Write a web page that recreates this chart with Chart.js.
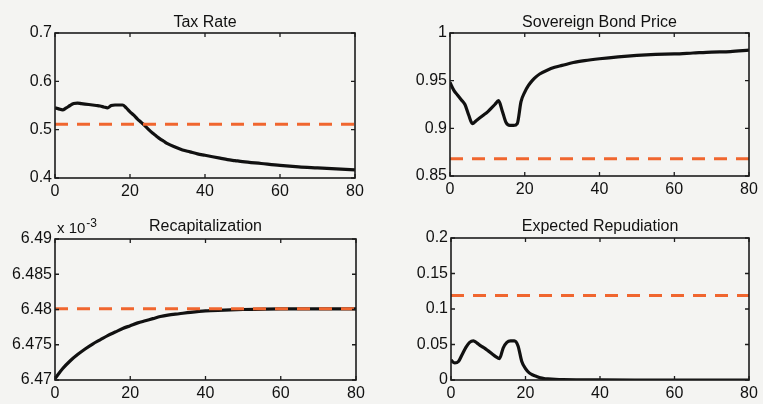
<!DOCTYPE html>
<html>
<head>
<meta charset="utf-8">
<script src="https://cdn.jsdelivr.net/npm/chart.js@4.4.1/dist/chart.umd.min.js"></script>
<style>
body{margin:0;background:#f4f4f2;width:763px;height:404px;overflow:hidden;position:relative}
canvas{position:absolute}
</style>
</head>
<body>
<canvas id="c1" width="381" height="200" style="left:0;top:0"></canvas>
<canvas id="c2" width="382" height="200" style="left:381px;top:0"></canvas>
<canvas id="c3" width="381" height="204" style="left:0;top:200px"></canvas>
<canvas id="c4" width="382" height="204" style="left:381px;top:200px"></canvas>
<script>
// x axis (periods)
const xTickVals = [0, 20, 40, 60, 80]
const xTickLabels = ['0', '20', '40', '60', '80']

// Tax Rate
const taxX = [0,1,2,3,4,5,6,7,8,9,10,11,12,13,14,15,16,17,18,19,20,21,22,23,24,25,26,27,28,29,30,32,34,36,38,40,42,44,46,48,50,55,60,65,70,75,80]
const taxY = [0.545,0.543,0.541,0.545,0.550,0.554,0.555,0.554,0.553,0.552,0.551,0.550,0.549,0.547,0.545,0.550,0.551,0.551,0.551,0.545,0.537,0.530,0.522,0.515,0.508,0.500,0.493,0.487,0.481,0.476,0.471,0.464,0.458,0.454,0.450,0.447,0.444,0.441,0.438,0.436,0.434,0.430,0.426,0.423,0.421,0.419,0.417]
const taxSteady = 0.511
const taxTickVals = [0.4, 0.5, 0.6, 0.7]
const taxTickLabels = ['0.4', '0.5', '0.6', '0.7']

// Sovereign Bond Price
const bondX = [0,1,2,3,4,5,6,7,8,9,10,11,12,13,14,15,16,17,18,19,20,21,22,23,24,26,28,30,33,36,40,45,50,55,60,65,70,75,80]
const bondY = [0.948,0.940,0.935,0.930,0.925,0.914,0.905,0.908,0.911,0.914,0.917,0.921,0.925,0.929,0.918,0.906,0.903,0.903,0.905,0.928,0.938,0.945,0.950,0.954,0.957,0.961,0.964,0.966,0.969,0.971,0.973,0.975,0.9765,0.9775,0.978,0.979,0.980,0.9805,0.982]
const bondSteady = 0.868
const bondTickVals = [0.85, 0.9, 0.95, 1]
const bondTickLabels = ['0.85', '0.9', '0.95', '1']

// Recapitalization (values in units of 1e-3)
const recapX = [0,2,4,6,8,10,12,14,16,18,20,22,24,26,28,30,33,36,40,45,50,60,70,80]
const recapY = [6.4702,6.4716,6.4727,6.4736,6.4744,6.4751,6.4757,6.4763,6.4768,6.4773,6.4777,6.4781,6.4784,6.4787,6.4790,6.4792,6.4794,6.4796,6.4798,6.4799,6.4800,6.4801,6.4801,6.4801]
const recapSteady = 6.4801
const recapTickVals = [6.47, 6.475, 6.48, 6.485, 6.49]
const recapTickLabels = ['6.47', '6.475', '6.48', '6.485', '6.49']

// Expected Repudiation
const repX = [0,1,2,3,4,5,6,7,8,9,10,11,12,13,14,15,16,17,18,19,20,21,22,23,24,25,26,28,30,35,40,50,60,70,80]
const repY = [0.028,0.024,0.026,0.036,0.046,0.053,0.055,0.052,0.048,0.045,0.041,0.037,0.033,0.030,0.045,0.053,0.055,0.055,0.048,0.026,0.016,0.010,0.007,0.005,0.003,0.002,0.0015,0.0008,0.0004,0.0002,0.0001,0,0,0,0]
const repSteady = 0.119
const repTickVals = [0, 0.05, 0.1, 0.15, 0.2]
const repTickLabels = ['0', '0.05', '0.1', '0.15', '0.2']

const FONT = '"Liberation Sans", Arial, sans-serif'

// matlab-like box, inward ticks, title, exponent label
const frame = {
  id: 'frame',
  afterDraw(chart, args, opts) {
    const {ctx, chartArea: a, scales} = chart
    ctx.save()
    ctx.strokeStyle = '#1c1c1c'
    ctx.lineWidth = 1.6
    ctx.strokeRect(a.left, a.top, a.right - a.left, a.bottom - a.top)
    ctx.lineWidth = 1.3
    ctx.beginPath()
    scales.x.ticks.forEach(t => {
      const px = scales.x.getPixelForValue(t.value)
      ctx.moveTo(px, a.bottom); ctx.lineTo(px, a.bottom - 4)
      ctx.moveTo(px, a.top); ctx.lineTo(px, a.top + 4)
    })
    scales.y.ticks.forEach(t => {
      const py = scales.y.getPixelForValue(t.value)
      ctx.moveTo(a.left, py); ctx.lineTo(a.left + 4, py)
      ctx.moveTo(a.right, py); ctx.lineTo(a.right - 4, py)
    })
    ctx.stroke()
    ctx.fillStyle = '#111'
    ctx.font = '16px ' + FONT
    ctx.textAlign = 'center'
    ctx.textBaseline = 'alphabetic'
    ctx.fillText(opts.text, (a.left + a.right) / 2, a.top - opts.gap)
    if (opts.expo) {
      ctx.textAlign = 'left'
      ctx.font = '15px ' + FONT
      const base = 'x 10'
      ctx.fillText(base, a.left + 2, a.top - 6)
      const w = ctx.measureText(base).width
      ctx.font = '12px ' + FONT
      ctx.fillText(opts.expo, a.left + 3 + w, a.top - 12)
    }
    ctx.restore()
  }
}

function makeChart(id, xs, ys, steady, yVals, yLabels, pad, xH, title, gap, expo) {
  new Chart(document.getElementById(id), {
    type: 'line',
    data: {
      datasets: [{
        data: xs.map((x, i) => ({x: x, y: ys[i]})),
        borderColor: '#111',
        borderWidth: 3.2,
        pointRadius: 0,
        cubicInterpolationMode: 'monotone',
        borderJoinStyle: 'round',
        order: 2
      }, {
        data: [{x: 0, y: steady}, {x: 80, y: steady}],
        borderColor: '#f0662f',
        borderWidth: 3,
        borderDash: [13, 9],
        pointRadius: 0,
        order: 1
      }]
    },
    options: {
      responsive: false,
      animation: false,
      layout: {padding: pad},
      plugins: {
        legend: {display: false},
        tooltip: {enabled: false},
        frame: {text: title, gap: gap, expo: expo}
      },
      scales: {
        x: {
          type: 'linear', min: 0, max: 80,
          grid: {display: false, drawTicks: false},
          border: {display: false},
          afterBuildTicks: s => { s.ticks = xTickVals.map(v => ({value: v})) },
          afterFit: s => { s.height = xH },
          ticks: {
            padding: 4, maxRotation: 0, color: '#111',
            font: {family: FONT, size: 16},
            callback: (v, i) => xTickLabels[i]
          }
        },
        y: {
          min: yVals[0], max: yVals[yVals.length - 1],
          grid: {display: false, drawTicks: false},
          border: {display: false},
          afterBuildTicks: s => { s.ticks = yVals.map(v => ({value: v})) },
          afterFit: s => { s.width = pad.yW },
          ticks: {
            padding: 3, color: '#111',
            font: {family: FONT, size: 16},
            callback: (v, i) => yLabels[i]
          }
        }
      }
    },
    plugins: [frame]
  })
}

makeChart('c1', taxX, taxY, taxSteady, taxTickVals, taxTickLabels,
  {left: 0, right: 26, top: 33, bottom: 0, yW: 55}, 22, 'Tax Rate', 6)
makeChart('c2', bondX, bondY, bondSteady, bondTickVals, bondTickLabels,
  {left: 0, right: 14, top: 33, bottom: 0, yW: 69}, 24, 'Sovereign Bond Price', 6)
makeChart('c3', recapX, recapY, recapSteady, recapTickVals, recapTickLabels,
  {left: 0, right: 25, top: 39, bottom: 0, yW: 55}, 24, 'Recapitalization', 8, '-3')
makeChart('c4', repX, repY, repSteady, repTickVals, repTickLabels,
  {left: 0, right: 14, top: 38, bottom: 0, yW: 70}, 24, 'Expected Repudiation', 7)
</script>
</body>
</html>
